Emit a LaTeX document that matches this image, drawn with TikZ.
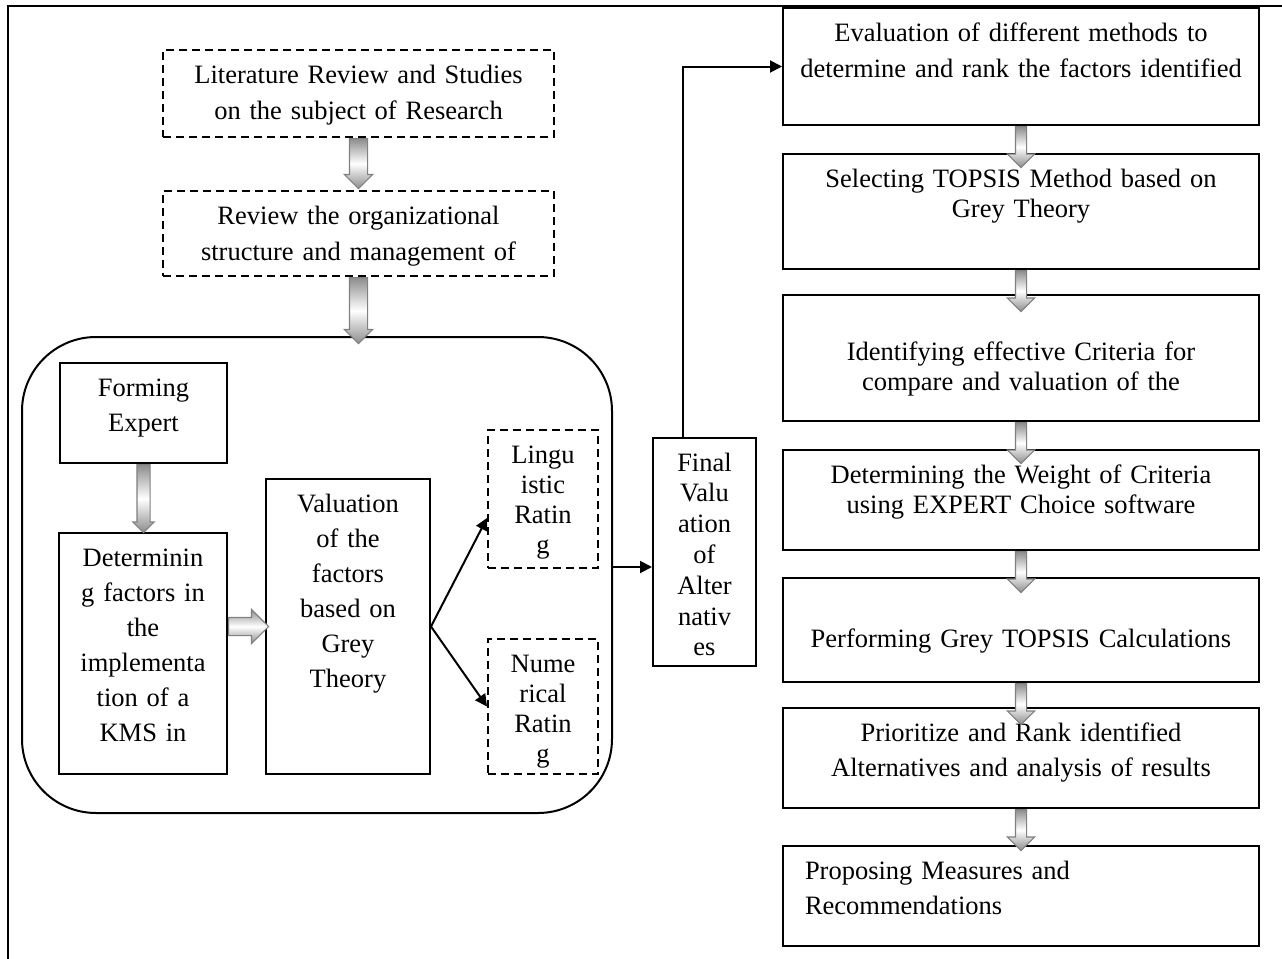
\documentclass[tikz,border=0pt]{standalone}
\usepackage{fontspec}
\setmainfont{Liberation Serif}
\usetikzlibrary{positioning,arrows.meta,shapes.arrows}

\begin{document}
\begin{tikzpicture}[x=0.5pt, y=-0.5pt,
    stepbox/.style={draw, line width=1pt, align=center, anchor=north, inner xsep=2pt, inner ysep=0pt, text height=16.5pt, font=\fontsize{13.25}{17.5}\selectfont},
    dashbox/.style={stepbox, dash pattern=on 4pt off 2.5pt},
    tight/.style={font=\fontsize{13.25}{15}\selectfont},
    loose/.style={font=\fontsize{13.25}{18}\selectfont},
    arrow/.style={-{Triangle[length=6pt, width=6pt]}, line width=1pt},
    bigarrow/.style={single arrow, draw=black!50, line width=0.6pt, top color=black!45, bottom color=black!45, middle color=white, single arrow head indent=0pt, inner sep=0pt, anchor=west},
]
\useasboundingbox (0,0) rectangle (1282,959);
\draw[line width=1pt] (1282,6) -- (8,6) -- (8,959);

% left column
\node[dashbox, loose, text width=191.5pt, text depth=27pt] (lit) at (358.5,49) {Literature Review and Studies\\on the subject of Research};
\node[dashbox, loose, text width=191.5pt, text depth=26pt, below=26pt of lit] (rev) {Review the organizational\\structure and management of};
\node[draw, line width=1pt, rounded corners=37pt, minimum width=295pt, minimum height=238pt] (panel) at (317,575) {};

\node[stepbox, text width=79.5pt, text depth=33.5pt] (form) at (143.5,362) {Forming\\Expert};
\node[stepbox, text width=80pt, text depth=104pt] (det) at (143,532) {Determinin\\g factors in\\the\\implementa\\tion of a\\KMS in};
\node[stepbox, text width=78pt, text depth=131pt] (val) at (348,478) {Valuation\\of the\\factors\\based on\\Grey\\Theory};
\node[dashbox, tight, text width=51pt, text depth=52.5pt] (ling) at (543,429) {Lingu\\istic\\Ratin\\g};
\node[dashbox, tight, text width=51pt, text depth=51pt] (num) at (543,638) {Nume\\rical\\Ratin\\g};
\node[stepbox, font=\fontsize{13.25}{15.4}\selectfont, text width=47.5pt, text depth=97.5pt] (fin) at (704.5,437) {Final\\Valu\\ation\\of\\Alter\\nativ\\es};

% right column
\node[stepbox, loose, text width=234pt, text depth=42pt] (eval) at (1021,7) {Evaluation of different methods to\\determine and rank the factors identified};
\node[stepbox, tight, text width=234pt, text depth=41pt, below=13.5pt of eval] (sel) {Selecting TOPSIS Method based on\\Grey Theory};
\node[stepbox, tight, text width=234pt, text height=32.5pt, text depth=30.5pt, below=12pt of sel] (ident) {Identifying effective Criteria for\\compare and valuation of the};
\node[stepbox, tight, text width=234pt, text depth=33.5pt, below=13.5pt of ident] (weight) {Determining the Weight of Criteria\\using EXPERT Choice software};
\node[stepbox, text width=234pt, text height=34.5pt, text depth=17.5pt, below=13pt of weight] (perf) {Performing Grey TOPSIS Calculations};
\node[stepbox, text width=234pt, text depth=33.5pt, below=12pt of perf] (prio) {Prioritize and Rank identified\\Alternatives and analysis of results};
\node[stepbox, align=left, inner xsep=11pt, text width=216pt, text depth=33.5pt, below=18pt of prio] (prop) {Proposing Measures and\\Recommendations};

% block arrows
\node[bigarrow, rotate=-90, inner ysep=4.25pt, single arrow head extend=2.5pt, minimum height=25pt] (a1) at (lit.south) {};
\node[bigarrow, rotate=-90, inner ysep=4.25pt, single arrow head extend=2.5pt, minimum height=33pt] (a2) at (rev.south) {};
\node[bigarrow, rotate=-90, inner ysep=3pt, single arrow head extend=2pt, minimum height=34pt] (a3) at (form.south) {};
\node[bigarrow, inner ysep=4.25pt, single arrow head extend=4pt, minimum height=20pt] (a4) at (det.east |- val.west) {};
\node[bigarrow, rotate=-90, inner ysep=2.5pt, single arrow head extend=4pt, minimum height=20.5pt] (d1) at (eval.south) {};
\node[bigarrow, rotate=-90, inner ysep=2.5pt, single arrow head extend=4pt, minimum height=20.5pt] (d2) at (sel.south) {};
\node[bigarrow, rotate=-90, inner ysep=2.5pt, single arrow head extend=4pt, minimum height=20.5pt] (d3) at (ident.south) {};
\node[bigarrow, rotate=-90, inner ysep=2.5pt, single arrow head extend=4pt, minimum height=20.5pt] (d4) at (weight.south) {};
\node[bigarrow, rotate=-90, inner ysep=2.5pt, single arrow head extend=4pt, minimum height=20.5pt] (d5) at (perf.south) {};
\node[bigarrow, rotate=-90, inner ysep=2.5pt, single arrow head extend=4pt, minimum height=20.5pt] (d6) at (prio.south) {};

% connectors
\draw[arrow] (val.east) -- ([yshift=-9.5pt]ling.west);
\draw[arrow] (val.east) -- (num.west);
\coordinate (out) at ([yshift=4pt]panel.east);
\draw[arrow] (out) -- (out -| fin.west);
\draw[arrow] ([xshift=-11pt]fin.north) |- (eval.west);
\end{tikzpicture}
\end{document}
